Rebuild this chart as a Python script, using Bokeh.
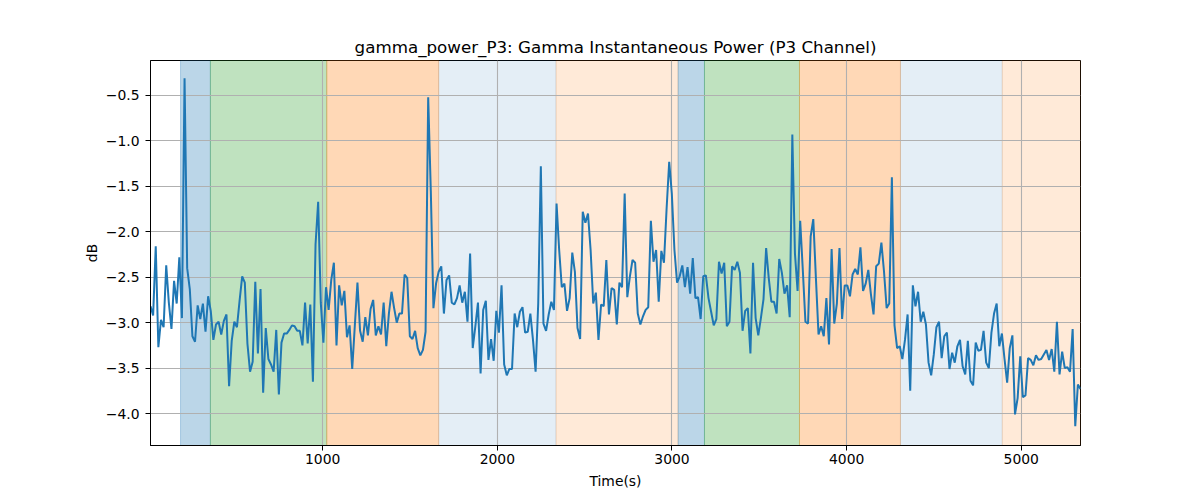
import numpy as np
from bokeh.plotting import figure
from bokeh.models import BoxAnnotation, FixedTicker, Range1d, ColumnDataSource
from bokeh.embed import file_html
from bokeh.resources import INLINE

# ---------------- data ----------------
title_text = "gamma_power_P3: Gamma Instantaneous Power (P3 Channel)"
x_label = "Time(s)"
y_label = "dB"

t_start = 14.0   # s, first sample
t_step = 15.0    # s, sample spacing

gamma_db = [
    -2.82, -2.92, -2.16, -3.27, -2.97, -3.05, -2.37, -2.78, -3.07, -2.54,
    -2.79, -2.28, -2.95, -0.31, -2.40, -2.63, -3.15, -3.21, -2.81, -2.96,
    -2.79, -3.10, -2.71, -2.87, -3.19, -3.02, -2.99, -3.13, -2.98, -2.91,
    -3.70, -3.20, -2.99, -3.05, -2.76, -2.49, -2.56, -3.23, -3.54, -3.43,
    -2.55, -3.34, -2.63, -3.77, -3.06, -3.40, -3.46, -3.54, -3.08, -3.79,
    -3.22, -3.12, -3.12, -3.08, -3.03, -3.04, -3.09, -3.09, -3.25, -2.78,
    -3.23, -2.80, -3.65, -2.14, -1.67, -2.78, -3.22, -2.61, -2.86, -2.53,
    -2.34, -3.25, -2.59, -2.81, -2.65, -3.16, -3.03, -3.51, -3.03, -2.56,
    -3.09, -3.21, -2.94, -3.14,
    -2.85, -2.75, -3.14, -3.04, -3.13, -2.78, -3.26, -2.90, -2.66, -2.84,
    -3.00, -2.90, -2.90, -2.47, -2.51, -3.15, -3.18, -3.09, -3.28, -3.36,
    -3.30, -3.10, -0.52, -1.55, -2.84, -2.57, -2.44, -2.38, -2.90, -2.53,
    -2.48, -2.78, -2.80, -2.73, -2.59, -2.78, -2.66, -2.99, -2.24, -3.28,
    -3.04, -2.78, -3.56, -2.86, -2.76, -3.41, -3.18, -3.42, -2.87, -3.11,
    -2.59, -3.46, -3.58, -3.51, -3.51, -2.90, -3.05, -2.88, -2.83, -3.11,
    -3.10, -2.90, -3.19, -3.54, -2.79, -1.28, -3.01, -3.09, -2.91, -2.77,
    -2.86, -1.69, -2.20, -2.61, -2.57, -2.87, -2.73, -2.23, -2.44, -3.06,
    -3.18, -1.78, -1.90, -1.80, -2.20, -2.79, -2.67, -3.19, -2.80,
    -2.82, -2.31, -2.91, -2.62, -2.64, -3.02, -2.56, -2.61, -1.58, -2.72,
    -2.49, -2.31, -2.34, -2.90, -3.02, -2.93, -2.86, -2.83, -1.88, -2.33,
    -2.20, -2.77, -2.21, -2.34, -1.75, -1.23, -1.58, -2.20, -2.56, -2.49,
    -2.37, -2.61, -2.39, -2.68, -2.29, -2.73, -2.72, -2.96, -2.49, -2.48,
    -2.73, -2.88, -3.03, -2.96, -2.33, -2.46, -2.34, -3.04, -2.99, -2.38,
    -2.42, -2.33, -2.45, -3.09, -2.87, -2.84, -3.34, -2.34, -2.95, -3.14,
    -2.95, -2.74, -2.18, -2.51, -2.77, -2.77, -2.90, -2.30, -2.45, -2.68,
    -2.59, -2.94, -0.93, -2.24, -2.65, -1.88, -2.42, -2.99, -3.01, -2.05,
    -1.86, -2.51, -3.13, -3.04, -3.15, -2.73, -3.24,
    -2.19, -3.01, -2.79, -2.18, -2.96, -2.59, -2.59, -2.71, -2.47, -2.41,
    -2.47, -2.17, -2.65, -2.57, -2.42, -2.69, -2.91, -2.38, -2.35, -2.12,
    -2.44, -2.84, -2.79, -1.40, -3.03, -3.28, -3.26, -3.40, -3.19, -2.91,
    -3.75, -2.59, -2.82, -2.66, -2.99, -2.88, -3.02, -3.44, -3.58, -3.35,
    -3.05, -2.99, -3.39, -3.15, -3.11, -3.51, -3.33, -3.44, -3.26, -3.19,
    -3.48, -3.57, -3.20, -3.64, -3.69, -3.22, -3.31, -3.30, -3.09, -3.44,
    -3.50, -3.11, -2.90, -2.79, -3.26, -3.12, -3.40, -3.66, -3.28, -3.14,
    -4.01, -3.83, -3.37, -3.82, -3.80, -3.39, -3.41, -3.47, -3.36, -3.41,
    -3.40, -3.35, -3.30, -3.41, -3.29, -3.54, -2.99, -3.57, -3.32, -3.50,
    -3.49, -3.54, -3.07, -4.14, -3.68, -3.73,
]

phase_start = [186, 357, 1023, 1664, 2336, 3035, 3186, 3730, 4308, 4891]
phase_end = [357, 1023, 1664, 2336, 3035, 3186, 3730, 4308, 4891, 5339]
phase_kind = ["a", "b", "c", "d", "e", "a", "b", "c", "d", "e"]

x_ticks = [1000, 2000, 3000, 4000, 5000]
y_ticks = [-4.0, -3.5, -3.0, -2.5, -2.0, -1.5, -1.0, -0.5]
y_limits = (-4.352, -0.115)

# ---------------- styles ----------------
phase_style = {
    "a": ("#1f77b4", 0.30),
    "b": ("#2ca02c", 0.30),
    "c": ("#ff7f0e", 0.30),
    "d": ("#1f77b4", 0.12),
    "e": ("#ff7f0e", 0.16),
}
FONT = "DejaVu Sans"

time_s = t_start + t_step * np.arange(len(gamma_db))
src = ColumnDataSource(dict(t=time_s, v=gamma_db))

p = figure(
    width=1192, height=492,
    output_backend="svg", toolbar_location=None,
    x_range=Range1d(time_s[0], time_s[-1]),
    y_range=Range1d(*y_limits),
    min_border_left=150, min_border_right=112,
    min_border_top=60, min_border_bottom=47,
    title=title_text,
)
p.background_fill_color = "white"
p.border_fill_color = "white"
p.outline_line_color = "black"
p.outline_line_width = 1

p.title.align = "center"
p.title.text_font = FONT
p.title.text_font_size = "16.7px"
p.title.text_font_style = "normal"
p.title.text_color = "black"
p.title.standoff = 8

for s, e, k in zip(phase_start, phase_end, phase_kind):
    c, a = phase_style[k]
    p.add_layout(BoxAnnotation(left=s, right=e, fill_color=c, fill_alpha=a,
                               line_color=c, line_alpha=a, line_width=1,
                               level="image"))

p.line("t", "v", source=src, line_color="#1f77b4", line_width=2.0)

p.xaxis.ticker = FixedTicker(ticks=x_ticks)
p.yaxis.ticker = FixedTicker(ticks=y_ticks)
p.yaxis.major_label_overrides = {v: f"{v:.1f}".replace("-", "\u2212") for v in y_ticks}
p.xaxis.major_label_overrides = {v: str(v) for v in x_ticks}

for ax in (p.xaxis, p.yaxis):
    ax.major_tick_in = 0
    ax.major_tick_out = 5
    ax.minor_tick_in = 0
    ax.minor_tick_out = 0
    ax.axis_line_color = "black"
    ax.major_tick_line_color = "black"
    ax.major_label_text_font = FONT
    ax.major_label_text_font_size = "13.9px"
    ax.major_label_text_color = "black"
    ax.axis_label_text_font = FONT
    ax.axis_label_text_font_size = "13.9px"
    ax.axis_label_text_font_style = "normal"
    ax.axis_label_text_color = "black"

p.xaxis.major_label_standoff = 3
p.yaxis.major_label_standoff = 6
p.xaxis.axis_label = x_label
p.yaxis.axis_label = y_label
p.xaxis.axis_label_standoff = 6
p.yaxis.axis_label_standoff = 3

p.grid.grid_line_color = "#b0b0b0"
p.grid.grid_line_width = 1.1

open("out.html", "w").write(file_html(p, INLINE))
